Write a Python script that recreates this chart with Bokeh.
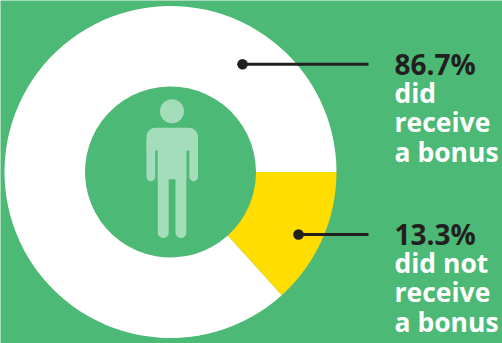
import numpy as np
from bokeh.plotting import figure
from bokeh.models import ColumnDataSource, Range1d
from bokeh.core.properties import value
from bokeh.embed import file_html
from bokeh.resources import INLINE

# Bonus survey shares
categories = ["did receive a bonus", "did not receive a bonus"]
shares = [86.7, 13.3]
slice_colors = ["#FFFFFF", "#FFDD00"]
caption_lines = [["did", "receive", "a bonus"], ["did not", "receive", "a bonus"]]

W, H = 502, 343
GREEN = "#4CBA76"
INK = "#231F20"
FIGURE_TINT = "#A4DDB9"
FONT = "Open Sans"


def Y(y):
    """Convert a top-down pixel row to the upward plot axis."""
    return H - y


p = figure(width=W, height=H, x_range=Range1d(0, W), y_range=Range1d(0, H),
           output_backend="svg", toolbar_location=None, min_border=0,
           background_fill_color=GREEN, border_fill_color=GREEN, outline_line_color=None)
p.axis.visible = False
p.grid.visible = False

# Ring: the smaller slice starts at 3 o'clock and runs clockwise
cx, cy = 170, Y(171.5)
fractions = np.array(shares) / sum(shares)
small_sweep = fractions[1] * 2 * np.pi
ring = ColumnDataSource(dict(
    start=[0, -small_sweep],
    end=[2 * np.pi - small_sweep, 0],
    color=slice_colors,
))
p.annular_wedge(x=cx, y=cy, inner_radius=85.5, outer_radius=166,
                start_angle="start", end_angle="end", direction="anticlock",
                fill_color="color", line_color=None, source=ring)


def capsule(x0, x1, y0, y1):
    """Vertical bar with a rounded lower end, in top-down pixels."""
    r = (x1 - x0) / 2
    t = np.linspace(0, np.pi, 16)
    xs = [x0, x1] + list((x0 + x1) / 2 + r * np.cos(t))
    ys = [y0, y0] + list(y1 - r + r * np.sin(t))
    return xs, [Y(v) for v in ys]


def torso():
    """Shoulders and trunk with rounded top corners."""
    x0, x1, y0, y1, r = 146, 197.5, 127.3, 150, 9
    t = np.linspace(0, np.pi / 2, 10)
    xs = [x1, *(x1 - r + r * np.cos(t)), *(x0 + r - r * np.sin(t)), x0]
    ys = [y1, *(y0 + r - r * np.sin(t)), *(y0 + r - r * np.cos(t)), y1]
    return xs, [Y(v) for v in ys]


# Person pictogram in the ring's hole
parts = [torso(),
         capsule(146, 154.7, 140, 180.7),
         capsule(188.8, 197.5, 140, 180.7),
         capsule(157.3, 168.2, 140, 237.5),
         capsule(175, 185.8, 140, 237.5)]
p.patches([a for a, _ in parts], [b for _, b in parts], fill_color=FIGURE_TINT, line_color=None)
p.quad(left=[157.3], right=[185.8], top=[Y(140)], bottom=[Y(178.7)],
       fill_color=FIGURE_TINT, line_color=None)
p.circle(x=[171.5], y=[Y(110.7)], radius=12, fill_color=FIGURE_TINT, line_color=None)

# Leader lines and captions
anchors = [(242, 63.8), (298, 234)]
line_end = 368
text_x = 394
headline_rows = [63, 233]
row_step = 29.4

for share, lines, (ax, ay), row in zip(shares, caption_lines, anchors, headline_rows):
    p.segment(x0=[ax], y0=[Y(ay)], x1=[line_end], y1=[Y(ay)], line_color=INK, line_width=3)
    p.circle(x=[ax], y=[Y(ay)], radius=5.3, fill_color=INK, line_color=None)
    p.text(x=[text_x], y=[Y(row)], text=[f"{share}%"], text_color=INK,
           text_font=value(FONT), text_font_style="bold", text_font_size="28px",
           text_baseline="alphabetic", text_align="left")
    p.text(x=[text_x] * len(lines), y=[Y(row + row_step * (i + 1)) for i in range(len(lines))],
           text=lines, text_color="#FFFFFF", text_font=value(FONT), text_font_style="bold",
           text_font_size="26.5px", text_baseline="alphabetic", text_align="left")

open("out.html", "w").write(file_html(p, INLINE))
